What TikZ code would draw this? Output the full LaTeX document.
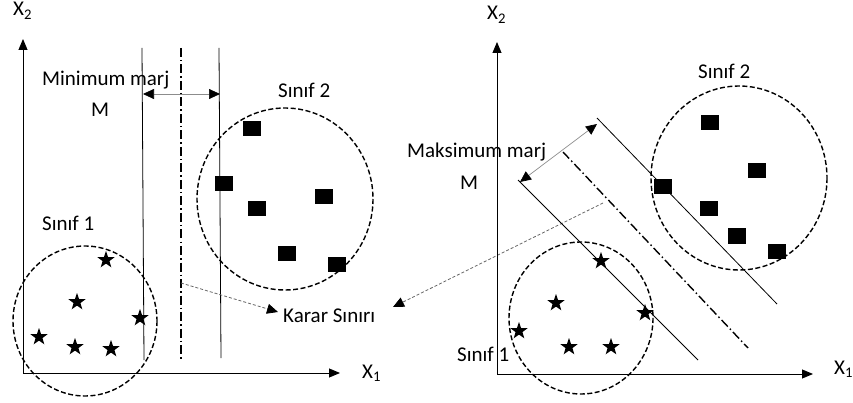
\documentclass[tikz,border=0pt]{standalone}
\usepackage{fontspec}
\setmainfont{Carlito}
\usetikzlibrary{arrows.meta,shapes.geometric}
\begin{document}
\begin{tikzpicture}[x=1pt,y=-1pt,
  lbl/.style={font=\fontsize{21}{25}\selectfont, inner sep=0pt, anchor=base west},
  axis/.style={line width=0.9pt,-{Triangle[length=11pt,width=9pt]}},
  cls/.style={line width=1.4pt, dash pattern=on 5pt off 2.5pt},
  margin/.style={line width=0.8pt},
  boundary/.style={line width=1.4pt, dash pattern=on 9pt off 3pt on 1.5pt off 3pt},
  marr/.style={black!45, line width=0.7pt, {Triangle[length=11pt,width=10pt,black]}-{Triangle[length=11pt,width=10pt,black]}},
  darr/.style={black!60, line width=0.8pt, dash pattern=on 3pt off 2pt, -{Triangle[length=11pt,width=10pt,black]}},
  starpt/.style={star, star points=5, star point ratio=2.5, fill=black, minimum size=18pt, inner sep=0pt},
  sq/.style={fill=black, minimum width=18pt, minimum height=15pt, inner sep=0pt}
]
\useasboundingbox (0,0) rectangle (853,403);

% ---------- Left panel ----------
\coordinate (lo) at (23,373);
\coordinate (ly) at (23,39);
\coordinate (lx) at (340,373);
\draw[axis] (lo) -- (ly);
\draw[axis] (lo) -- (lx);
\node[lbl] (lX2) at (13,16) {X\textsubscript{2}};
\node[lbl] (lX1) at (362,378) {X\textsubscript{1}};

\draw[cls] (285,199) ellipse [x radius=88, y radius=91];
\draw[cls] (85,321) ellipse [x radius=72, y radius=75];

\coordinate (la1) at (142,48); \coordinate (la2) at (144,360);
\coordinate (lb1) at (181,48); \coordinate (lb2) at (181,360);
\coordinate (lc1) at (219,48); \coordinate (lc2) at (221,358);
\draw[margin] (la1) -- (la2);
\draw[boundary] (lb1) -- (lb2);
\draw[margin] (lc1) -- (lc2);
\coordinate (lm1) at (143,94); \coordinate (lm2) at (220,94);
\draw[marr] (lm1) -- (lm2);

\node[lbl] (lmin) at (42,86) {Minimum marj};
\node[lbl] (lM) at (91,117) {M};
\node[lbl] (lS2) at (278,98) {Sınıf 2};
\node[lbl] (lS1) at (42,231) {Sınıf 1};

\node[sq] (lq1) at (252,129) {};
\node[sq] (lq2) at (224,184) {};
\node[sq] (lq3) at (257,209) {};
\node[sq] (lq4) at (324,197) {};
\node[sq] (lq5) at (287,253) {};
\node[sq] (lq6) at (337,264) {};

\node[starpt] (ls1) at (106,260) {};
\node[starpt] (ls2) at (77,302) {};
\node[starpt] (ls3) at (140,318) {};
\node[starpt] (ls4) at (39,337) {};
\node[starpt] (ls5) at (75,347) {};
\node[starpt] (ls6) at (111,349) {};

\node[lbl] (karar) at (283,322) {Karar Sınırı};
\coordinate (kl) at (181,283);
\coordinate (klend) at (278,312);
\draw[darr] (kl) -- (klend);
\coordinate (kr) at (603,203);
\coordinate (krend) at (393,307);
\draw[darr] (kr) -- (krend);

% ---------- Right panel ----------
\coordinate (ro) at (497,374);
\coordinate (ry) at (497,42);
\coordinate (rx) at (813,374);
\draw[axis] (ro) -- (ry);
\draw[axis] (ro) -- (rx);
\node[lbl] (rX2) at (487,20) {X\textsubscript{2}};
\node[lbl] (rX1) at (834,374) {X\textsubscript{1}};

\draw[cls] (739,178) ellipse [x radius=88, y radius=92];
\draw[cls] (581,318) ellipse [x radius=72, y radius=76];

\coordinate (ra1) at (597,118); \coordinate (ra2) at (777,304);
\coordinate (rb1) at (563,152); \coordinate (rb2) at (748,348);
\coordinate (rc1) at (518,180); \coordinate (rc2) at (698,360);
\draw[margin] (ra1) -- (ra2);
\draw[boundary] (rb1) -- (rb2);
\draw[margin] (rc1) -- (rc2);
\coordinate (rm1) at (520,182); \coordinate (rm2) at (597,124);
\draw[marr] (rm1) -- (rm2);

\node[lbl] (rmax) at (407,158) {Maksimum marj};
\node[lbl] (rM) at (460,190) {M};
\node[lbl] (rS2) at (698,79) {Sınıf 2};
\node[lbl] (rS1) at (457,361) {Sınıf 1};

\node[sq] (rq1) at (710,123) {};
\node[sq] (rq2) at (757,171) {};
\node[sq] (rq3) at (663,187) {};
\node[sq] (rq4) at (709,209) {};
\node[sq] (rq5) at (737,236) {};
\node[sq] (rq6) at (777,251) {};

\node[starpt] (rs1) at (601,261) {};
\node[starpt] (rs2) at (556,303) {};
\node[starpt] (rs3) at (645,313) {};
\node[starpt] (rs4) at (519,331) {};
\node[starpt] (rs5) at (569,347) {};
\node[starpt] (rs6) at (611,347) {};
\end{tikzpicture}
\end{document}
